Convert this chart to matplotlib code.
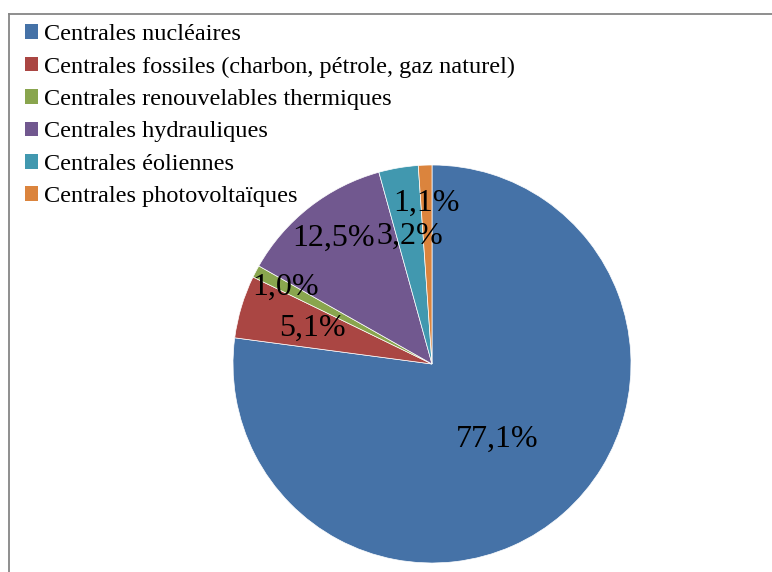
import numpy as np
import matplotlib.pyplot as plt
from matplotlib.lines import Line2D
from matplotlib.patches import Patch

plt.rcParams['font.family'] = ['Liberation Serif', 'DejaVu Serif']

# parts of electricity production (%)
labels = ['Centrales nucléaires',
          'Centrales fossiles (charbon, pétrole, gaz naturel)',
          'Centrales renouvelables thermiques',
          'Centrales hydrauliques',
          'Centrales éoliennes',
          'Centrales photovoltaïques']
values = [77.1, 5.1, 1.0, 12.5, 3.2, 1.1]
value_text = ['77,1%', '5,1%', '1,0%', '12,5%', '3,2%', '1,1%']
colors = ['#4572A7', '#AA4643', '#89A54E', '#71588F', '#4198AF', '#DB843D']
# how far out each percentage sits (fraction of radius)
label_dist = [0.50, 0.63, 0.83, 0.80, 0.65, 0.81]

W, H = 772, 572
fig = plt.figure(figsize=(W / 100, H / 100), dpi=100)

cx, cy, r = 432, 364, 199
ax = fig.add_axes([(cx - r) / W, (H - cy - r) / H, 2 * r / W, 2 * r / H])
wedges, _ = ax.pie(values, colors=colors, startangle=90, counterclock=False,
                   wedgeprops=dict(edgecolor='white', linewidth=0.5))
for w, txt, d in zip(wedges, value_text, label_dist):
    a = np.deg2rad((w.theta1 + w.theta2) / 2)
    ax.text(d * np.cos(a), d * np.sin(a), txt, ha='center', va='center',
            fontsize=23, color='black')
ax.set_xlim(-1, 1)
ax.set_ylim(-1, 1)
ax.axis('off')

# outer frame (only top and left visible)
fig.add_artist(Line2D([8.5 / W, 1.0], [1 - 13.5 / H, 1 - 13.5 / H],
                      color='#868686', lw=1.3, transform=fig.transFigure))
fig.add_artist(Line2D([8.5 / W, 8.5 / W], [0, 1 - 13.5 / H],
                      color='#868686', lw=1.3, transform=fig.transFigure))

handles = [Patch(facecolor=c, edgecolor='none') for c in colors]
fig.legend(handles, labels, loc='upper left', bbox_to_anchor=(8 / W, 1 - 7 / H),
           frameon=False, fontsize=17.5, handlelength=0.55, handleheight=0.55,
           handletextpad=0.25, labelspacing=0.47, borderpad=0.2)

fig.savefig('out.png', dpi=100)
